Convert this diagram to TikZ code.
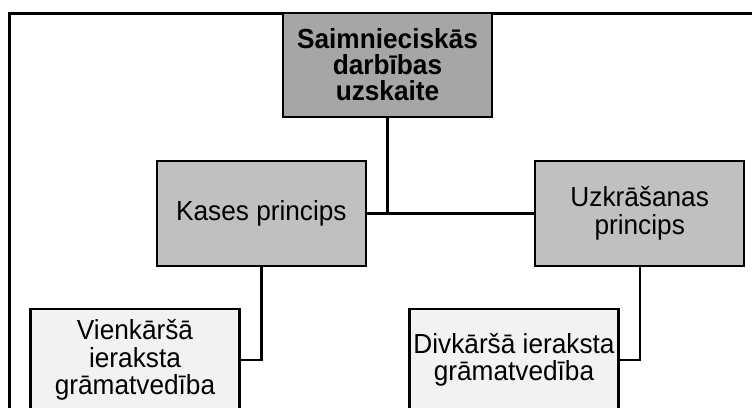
\documentclass[tikz,border=0pt]{standalone}
\usepackage{fontspec}
\setmainfont{Liberation Sans}[FakeStretch=0.95]
\definecolor{topgray}{RGB}{166,166,166}
\definecolor{midgray}{RGB}{192,192,192}
\definecolor{lowgray}{RGB}{242,242,242}
\tikzset{
  box/.style={draw=black, line width=2.3pt, inner sep=1pt, align=center,
    font=\fontsize{27.6}{27.5}\selectfont, text=black},
  topbox/.style={box, fill=topgray, font=\fontsize{27.6}{26}\selectfont\bfseries,
    minimum width=209pt, minimum height=104pt},
  midbox/.style={box, fill=midgray, minimum width=209pt, minimum height=104.5pt},
  lowbox/.style={box, fill=lowgray, minimum width=209pt, minimum height=102pt},
  conn/.style={draw=black, line width=2.3pt},
  frame/.style={draw=black, line width=3pt}
}
\begin{document}
\begin{tikzpicture}[x=1pt,y=-1pt]
\useasboundingbox (0,0) rectangle (752,407);
\clip (0,0) rectangle (752,407);
\fill[white] (0,0) rectangle (752,407);
\coordinate (fbl) at (9,460);
\coordinate (ftl) at (9,13);
\coordinate (ftr) at (800,13);
\draw[frame] (fbl) -- (ftl) -- (ftr);
\node[topbox] (top) at (387.5,65) {Saimnieciskās\\darbības\\uzskaite};
\node[midbox] (kases) at (261.4,213.5) {Kases princips};
\node[midbox] (uzkr) at (639.7,213.5) {Uzkrāšanas\\princips};
\node[lowbox] (vienk) at (135,360) {Vienkāršā\\ieraksta\\grāmatvedība};
\node[lowbox] (divk) at (514,360) {Divkāršā ieraksta\\grāmatvedība};
\draw[conn] (kases.east) -- (uzkr.west);
\draw[conn] (top.south) -- (top.south |- kases.east);
\draw[conn] (kases.south) |- (vienk.east);
\draw[conn] (uzkr.south) |- (divk.east);
\end{tikzpicture}
\end{document}
